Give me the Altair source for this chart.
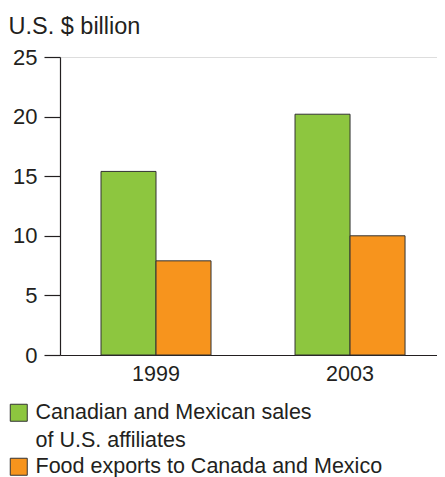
import altair as alt
import pandas as pd

years = ["1999", "2003"]
series = ["Canadian and Mexican sales of U.S. affiliates", "Food exports to Canada and Mexico"]
sales = [15.4, 20.2]
exports = [7.9, 10.0]
colors = ["#8dc63f", "#f7941d"]
y_ticks = [0, 5, 10, 15, 20, 25]

rows = []
for i, yr in enumerate(years):
    rows.append({"year": yr, "series": series[0], "value": sales[i]})
    rows.append({"year": yr, "series": series[1], "value": exports[i]})
df = pd.DataFrame(rows)

FONT = "Liberation Sans"
TXT = "#231f20"

label_expr = (
    "datum.label == '" + series[0] + "' ? ['Canadian and Mexican sales', 'of U.S. affiliates'] : datum.label"
)

bars = alt.Chart(df).mark_bar(stroke="#333333", strokeWidth=1).encode(
    x=alt.X(
        "year:N",
        sort=years,
        scale=alt.Scale(paddingInner=0.433, paddingOuter=0.188, align=0.562),
        axis=alt.Axis(
            title=None, labelAngle=0, ticks=False, labelPadding=8,
            domainColor="#231f20", domainWidth=1.2,
            labelFontSize=21.5, labelColor=TXT, labelFont=FONT,
        ),
    ),
    xOffset=alt.XOffset("series:N", sort=series, scale=alt.Scale(paddingInner=0, paddingOuter=0)),
    y=alt.Y(
        "value:Q",
        scale=alt.Scale(domain=[0, 25], nice=False),
        axis=alt.Axis(
            values=y_ticks, grid=False, tickSize=16, tickColor="#231f20", tickWidth=1.2,
            domainColor="#231f20", domainWidth=1.2,
            labelFontSize=22, labelColor=TXT, labelFont=FONT, labelPadding=7,
            title="U.S. $ billion", titleAngle=0, titleAlign="left", titleBaseline="alphabetic",
            titleX=-52, titleY=-24, titleFontSize=23.5, titleFontWeight="normal",
            titleColor=TXT, titleFont=FONT,
        ),
    ),
    color=alt.Color(
        "series:N",
        sort=series,
        scale=alt.Scale(domain=series, range=colors),
        legend=alt.Legend(
            title=None, orient="none", legendX=-52, legendY=345,
            symbolType="square", symbolSize=289, symbolStrokeColor="#333333",
            symbolStrokeWidth=1, symbolOpacity=1,
            labelFontSize=21.5, labelColor=TXT, labelFont=FONT, labelLimit=400,
            labelOffset=6, rowPadding=3, padding=0, labelExpr=label_expr,
        ),
    ),
)

chart = bars.properties(
    width=377, height=298,
    autosize=alt.AutoSizeParams(type="none"),
    padding={"left": 52, "top": 49, "right": 0, "bottom": 125},
).configure_view(stroke=None).configure(
    background="white",
    style={"guide-label": {"lineHeight": 28}},
)

chart.save("out.html", embed_options={"renderer": "svg", "actions": False})
